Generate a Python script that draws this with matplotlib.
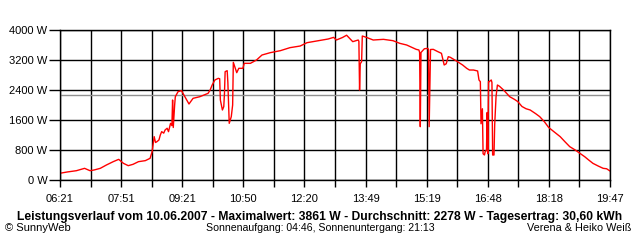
import matplotlib
matplotlib.use("Agg")
import matplotlib.pyplot as plt
import numpy as np

plt.rcParams['font.family'] = ['Liberation Sans', 'DejaVu Sans']

# Zeit in Minuten seit Mitternacht, Leistung in W
minutes = [381, 392, 405, 417, 425, 431, 440, 449, 459, 467, 474, 481, 488, 496, 506, 513,
           516, 519, 521, 523, 526, 528, 530, 533, 535, 538, 540, 543, 545, 546, 547, 549,
           550, 554, 559, 564, 570, 576, 586, 592, 598, 601, 604, 608, 613, 615, 616, 619,
           621, 622, 623, 626, 627, 629, 632, 634, 635, 640, 643, 649, 651, 660, 669, 677,
           689, 704, 718, 733, 743, 757, 774, 782, 786, 795, 801, 810, 818, 819, 820, 821,
           823, 824, 830, 840, 855, 869, 879, 889, 903, 907, 908, 909, 910, 915, 920, 921,
           922, 924, 928, 935, 940, 944, 947, 950, 953, 962, 971, 977, 981, 987, 993, 995,
           997, 998, 1000, 1001, 1003, 1004, 1006, 1007, 1008, 1009, 1010, 1013, 1014, 1015,
           1017, 1018, 1020, 1022, 1025, 1031, 1036, 1040, 1047, 1052, 1058, 1064, 1070,
           1078, 1084, 1091, 1097, 1104, 1114, 1121, 1128, 1136, 1143, 1150, 1156, 1162,
           1170, 1177, 1182, 1187]
watts = [180, 215, 248, 311, 248, 267, 311, 400, 489, 551, 444, 382, 418, 489, 516, 578,
         756, 1156, 1000, 1022, 1067, 1200, 1289, 1250, 1333, 1380, 1289, 1511, 1450, 2133, 1400, 2000,
         2222, 2356, 2382, 2222, 2027, 2178, 2222, 2267, 2311, 2400, 2533, 2667, 2711, 2700, 2133, 1867,
         1956, 2300, 2889, 2915, 2600, 1511, 1689, 2000, 3138, 2862, 2978, 2978, 3111, 3111, 3200, 3333,
         3395, 3449, 3529, 3573, 3662, 3707, 3760, 3804, 3733, 3800, 3861, 3689, 3733, 3700, 2400, 3100,
         3155, 3840, 3804, 3733, 3751, 3715, 3644, 3600, 3484, 3467, 3400, 1422, 3400, 3500, 3511, 3480,
         1422, 3480, 3484, 3420, 3378, 3067, 3100, 3289, 3271, 3173, 3067, 2978, 2933, 2933, 2907, 2667,
         2622, 1500, 1900, 700, 667, 750, 800, 1800, 700, 2622, 2622, 2667, 2600, 667,
         667, 1467, 2222, 2533, 2500, 2400, 2300, 2222, 2150, 2089, 1960, 1900, 1867,
         1770, 1689, 1550, 1404, 1300, 1156, 1020, 889, 800, 711, 620, 530, 444,
         370, 311, 300, 240]

average = 2278
y_ticks = [0, 800, 1600, 2400, 3200, 4000]
x_labels = ["06:21", "07:51", "09:21", "10:50", "12:20", "13:49", "15:19", "16:48", "18:18", "19:47"]
t_start, t_end = 381, 1187

fig = plt.figure(figsize=(6.4, 2.4), dpi=100)
ax = fig.add_axes([60 / 640, 60 / 240, 550 / 640, 150 / 240])

# Gitter alle halbe Beschriftungsschritte
x_grid = np.linspace(t_start, t_end, 19)
ax.set_xlim(t_start, t_end)
ax.set_ylim(0, 4000)
ax.set_xticks(x_grid)
ax.set_xticklabels([x_labels[i // 2] if i % 2 == 0 else "" for i in range(19)])
ax.set_yticks(y_ticks)
ax.set_yticklabels([f"{v} W" for v in y_ticks])
ax.grid(True, color="black", linewidth=1)
ax.set_axisbelow(True)
ax.tick_params(axis="x", direction="out", length=5, width=1, labelsize=8, pad=5)
ax.tick_params(axis="y", direction="out", length=8, width=1, labelsize=8, pad=1)
for s in ax.spines.values():
    s.set_linewidth(1)

ax.axhline(average, color="#909090", linewidth=1)
ax.plot(minutes, watts, color="red", linewidth=1)

fig.text(320 / 640, 1 - 217 / 240, "Leistungsverlauf vom 10.06.2007 - Maximalwert: 3861 W - "
         "Durchschnitt: 2278 W - Tagesertrag: 30,60 kWh",
         ha="center", va="center", fontsize=8.7, fontweight="bold")
fig.text(5 / 640, 1 - 228 / 240, "© SunnyWeb", ha="left", va="center", fontsize=8)
fig.text(320 / 640, 1 - 228 / 240, "Sonnenaufgang: 04:46, Sonnenuntergang: 21:13",
         ha="center", va="center", fontsize=7.6)
fig.text(631 / 640, 1 - 228 / 240, "Verena & Heiko Weiß", ha="right", va="center", fontsize=7.8)

fig.savefig("out.png", dpi=100)
